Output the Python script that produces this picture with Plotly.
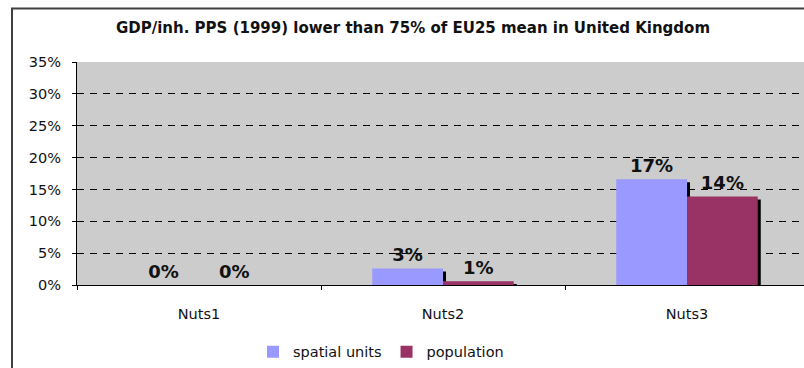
import plotly.graph_objects as go

# Share of NUTS units / population with GDP per inhabitant (PPS, 1999) below 75% of the EU25 mean
categories = ["Nuts1", "Nuts2", "Nuts3"]
spatial_units = [0.0, 0.026, 0.166]
population = [0.0, 0.006, 0.139]
y_ticks = [0, 0.05, 0.10, 0.15, 0.20, 0.25, 0.30, 0.35]

title_text = "GDP/inh. PPS (1999) lower than 75% of EU25 mean in United Kingdom"
series_names = ["spatial units", "population"]
series_colors = ["#9999FF", "#993366"]

W, H = 804, 368
M_L, M_T, M_B = 77, 62, 79
plot_h = H - M_T - M_B
px_per_cat = 244.0
y_max = 0.35

bar_w = 0.29
offsets = [-bar_w, 0.0]
shadow_dx = 3 / px_per_cat          # 3 px to the right
shadow_dy = 3 * y_max / plot_h      # 3 px downward

fig = go.Figure()

# drop shadows (drawn first, beneath the bars)
for vals, off in zip([spatial_units, population], offsets):
    fig.add_trace(go.Bar(
        x=categories, y=vals, base=[-shadow_dy] * len(vals),
        width=bar_w, offset=off + shadow_dx,
        marker=dict(color="black", line=dict(width=0)),
        showlegend=False, hoverinfo="skip",
    ))

for vals, off, name, color in zip([spatial_units, population], offsets, series_names, series_colors):
    fig.add_trace(go.Bar(
        x=categories, y=vals, width=bar_w, offset=off,
        name=name, marker=dict(color=color, line=dict(width=0)),
        text=vals, texttemplate="%{y:.0%}", textposition="outside",
        textfont=dict(family="DejaVu Sans", size=18, color="#111111", weight="bold"),
        cliponaxis=False, constraintext="none",
    ))

x_end = -0.5 + (W - M_L) / px_per_cat

fig.update_layout(
    width=W, height=H,
    margin=dict(l=M_L, r=0, t=M_T, b=M_B, pad=0),
    barmode="overlay",
    paper_bgcolor="white",
    plot_bgcolor="#cccccc",
    font=dict(family="DejaVu Sans", size=14, color="#111111"),
    title=dict(
        text="<b>" + title_text + "</b>",
        font=dict(family="DejaVu Sans", size=15, color="#111111"),
        x=413 / W, xanchor="center", xref="container",
        y=1 - 28 / H, yanchor="middle", yref="container",
    ),
    xaxis=dict(
        type="category", range=[-0.5, x_end],
        showline=True, linecolor="black", linewidth=1,
        ticks="outside", tickson="boundaries", ticklen=4, tickcolor="black",
        showgrid=False, ticklabelstandoff=16,
        tickfont=dict(size=14.5),
    ),
    yaxis=dict(
        range=[0, y_max], tickvals=y_ticks, tickformat=".0%",
        showline=True, linecolor="black", linewidth=1,
        ticks="outside", ticklen=4, tickcolor="black",
        showgrid=True, gridcolor="black", gridwidth=1, griddash="7px,6px",
        zeroline=False, ticklabelstandoff=8,
        tickfont=dict(size=14.5),
    ),
    legend=dict(
        orientation="h", x=(381 - M_L) / (W - M_L), xanchor="center",
        y=-(357 - (H - M_B)) / plot_h, yanchor="middle",
        font=dict(size=14.5), itemwidth=30, bgcolor="rgba(0,0,0,0)",
    ),
    showlegend=True,
)

# outer chart frame (top and left edges visible)
fig.add_shape(
    type="rect", xref="paper", yref="paper",
    x0=(12 - M_L) / (W - M_L), x1=1.2,
    y0=-0.6, y1=((H - M_B) - 7.5) / plot_h,
    line=dict(color="#404040", width=2), fillcolor="rgba(0,0,0,0)", layer="above",
)

fig.write_html("out.html")
